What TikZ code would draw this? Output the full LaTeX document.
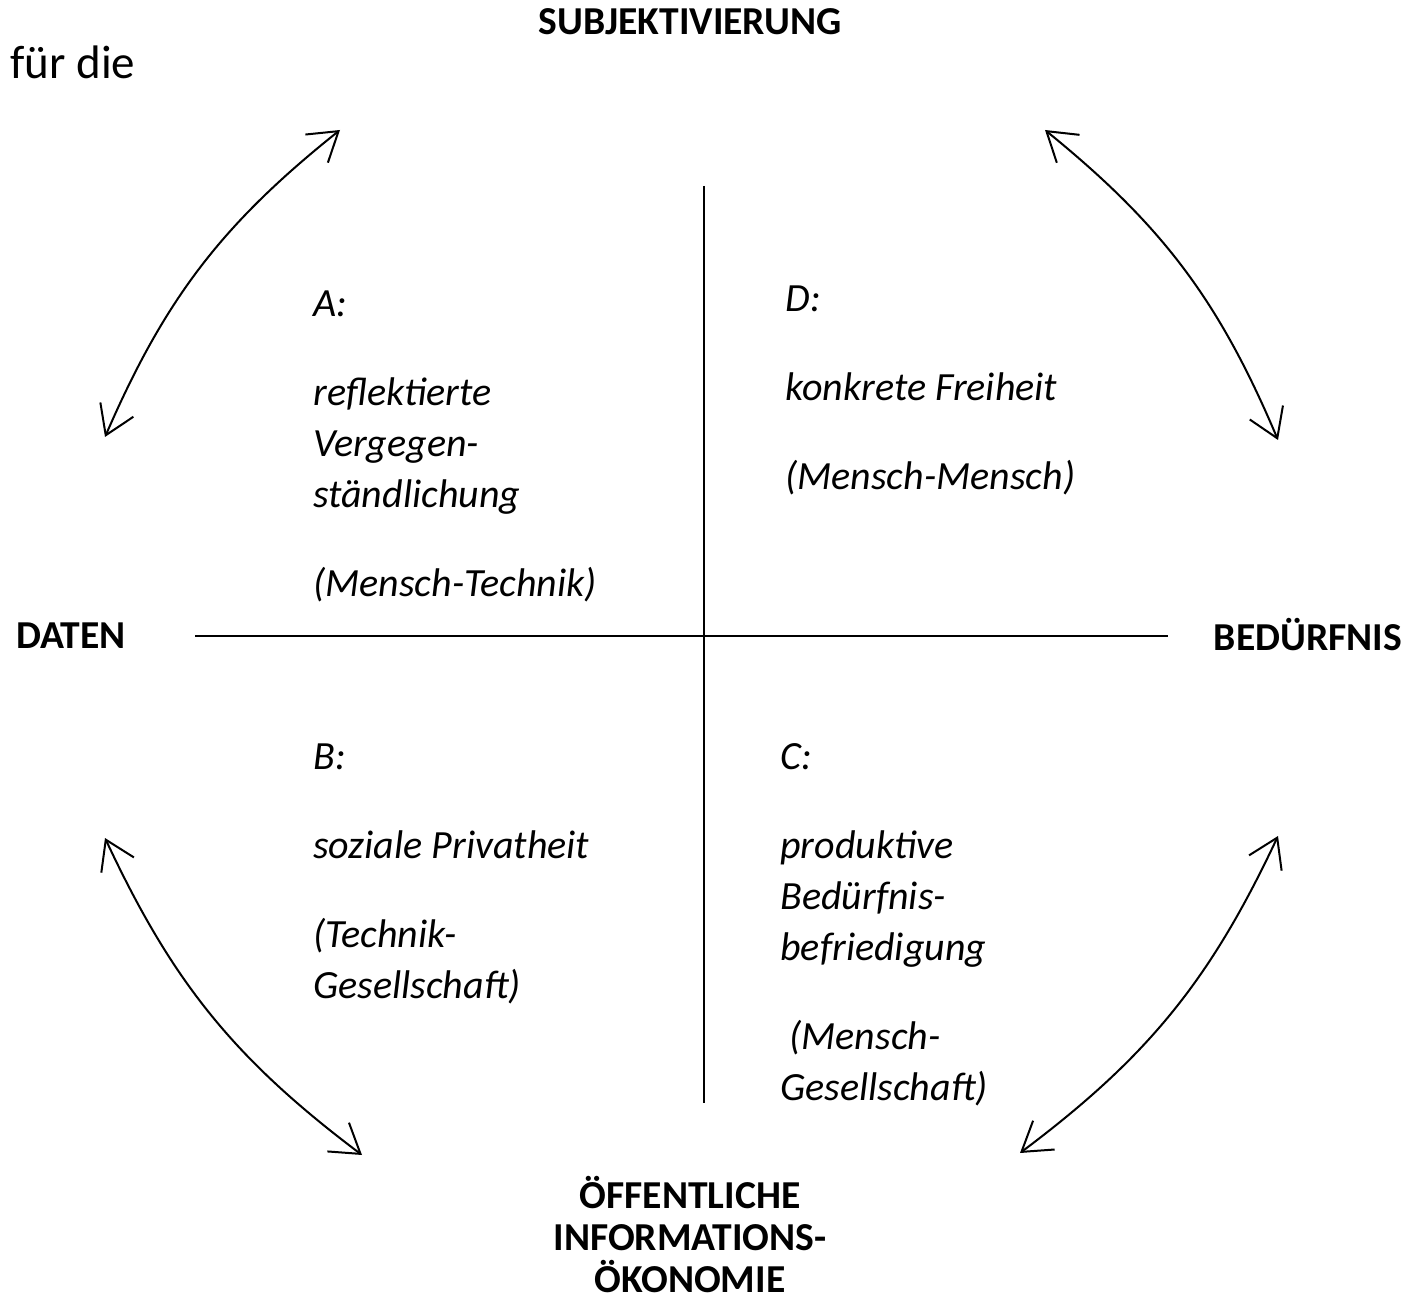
\documentclass[tikz,border=0pt]{standalone}
\usepackage{fontspec}
\setmainfont{Carlito}
\usetikzlibrary{arrows.meta}
\begin{document}
\begin{tikzpicture}[x=0.5pt,y=-0.5pt,
	axisLabel/.style={font=\bfseries\fontsize{19.8}{21}\selectfont,inner sep=0pt,align=center},
	fieldText/.style={font=\itshape\fontsize{20}{25.5}\selectfont,inner sep=0pt,align=left,anchor=north west},
	swing/.style={{Straight Barb[length=14pt,width=18pt]}-{Straight Barb[length=14pt,width=18pt]},line width=1pt}]
	\useasboundingbox (0,0) rectangle (1409,1304);

	% labels of the axes
	\node (introNode) at (10,62)[anchor=west,inner sep=0pt,font=\fontsize{23.5}{28}\selectfont] {für die};
	\node (subjNode) at (690,22)[axisLabel] {SUBJEKTIVIERUNG};
	\node (datenNode) at (71,636)[axisLabel] {DATEN};
	\node (bedNode) at (1308,635)[axisLabel] {BEDÜRFNIS};
	\node (oeffNode) at (690,1235)[axisLabel] {ÖFFENTLICHE\\INFORMATIONS-\\ÖKONOMIE};

	% axes
	\coordinate (west) at (195,636);
	\coordinate (east) at (1168,636);
	\coordinate (north) at (704,186);
	\coordinate (south) at (704,1103);
	\draw[line width=0.9pt] (west) -- (east);
	\draw[line width=0.9pt] (north) -- (south);

	% the four fields
	\node (fieldA) at (313,290)[fieldText] {A:\\[19pt]reflektierte\\Vergegen-\\ständlichung\\[19pt](Mensch-Technik)};
	\node (fieldD) at (785,285)[fieldText] {D:\\[19pt]konkrete Freiheit\\[19pt](Mensch-Mensch)};
	\node (fieldB) at (313,743)[fieldText] {B:\\[19pt]soziale Privatheit\\[19pt](Technik-\\Gesellschaft)};
	\node (fieldC) at (780,743)[fieldText] {C:\\[19pt]produktive\\Bedürfnis-\\befriedigung\\[19pt]\ (Mensch-\\Gesellschaft)};

	% arcs between the axes
	\coordinate (tlLow) at (105,437);
	\coordinate (tlHigh) at (340,130);
	\coordinate (trHigh) at (1045,130);
	\coordinate (trLow) at (1278,440);
	\coordinate (blHigh) at (105,838);
	\coordinate (blLow) at (362,1155);
	\coordinate (brLow) at (1020,1153);
	\coordinate (brHigh) at (1278,836);
	\draw[swing] (tlLow) to[bend left=14] (tlHigh);
	\draw[swing] (trHigh) to[bend left=14] (trLow);
	\draw[swing] (blHigh) to[bend right=14] (blLow);
	\draw[swing] (brLow) to[bend right=14] (brHigh);
\end{tikzpicture}
\end{document}
